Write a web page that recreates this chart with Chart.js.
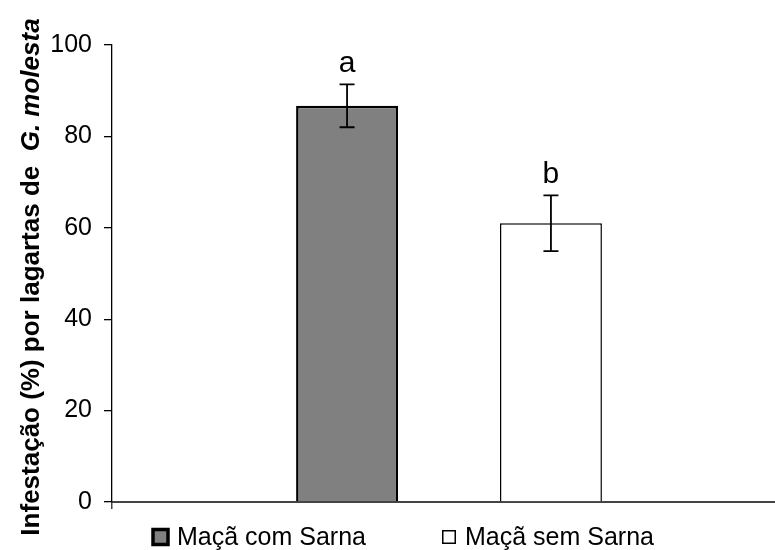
<!DOCTYPE html>
<html>
<head>
<meta charset="utf-8">
<script src="https://cdn.jsdelivr.net/npm/chart.js@4"></script>
<style>
  html, body { margin: 0; padding: 0; background: #fff; overflow: hidden; }
  #wrap { width: 790px; height: 550px; position: relative; }
</style>
</head>
<body>
<div id="wrap"><canvas id="grafico"></canvas></div>
<script>
const tratamentos = ["Maçã com Sarna", "Maçã sem Sarna"];
const infestacao = [86.7, 61.0];
const erroPadrao = [4.7, 6.1];
const letras = ["a", "b"];
const ticksY = [0, 20, 40, 60, 80, 100];
const coresBarra = ["#808080", "#ffffff"];
const bordasBarra = [2.5, 1.5];

const fonte = "'Liberation Sans', Arial, sans-serif";

// barras de erro + letras da comparação de médias
const errosPlugin = {
  id: "erros",
  afterDatasetsDraw(chart) {
    const ctx = chart.ctx;
    const y = chart.scales.y;
    ctx.save();
    chart.data.datasets.forEach((ds, i) => {
      const bar = chart.getDatasetMeta(i).data[0];
      const v = ds.data[0];
      const yTop = y.getPixelForValue(v + erroPadrao[i]);
      const yBot = y.getPixelForValue(v - erroPadrao[i]);
      ctx.strokeStyle = "#000";
      ctx.lineWidth = 1.8;
      ctx.beginPath();
      ctx.moveTo(bar.x, yTop);
      ctx.lineTo(bar.x, yBot);
      ctx.moveTo(bar.x - 7.5, yTop);
      ctx.lineTo(bar.x + 7.5, yTop);
      ctx.moveTo(bar.x - 7.5, yBot);
      ctx.lineTo(bar.x + 7.5, yBot);
      ctx.stroke();
      ctx.fillStyle = "#000";
      ctx.font = "30px " + fonte;
      ctx.textAlign = "center";
      ctx.textBaseline = "alphabetic";
      ctx.fillText(letras[i], bar.x, yTop - 12);
    });
    ctx.restore();
  },
};

// titulo do eixo Y com nome da especie em italico
const tituloPlugin = {
  id: "tituloY",
  afterDraw(chart) {
    const ctx = chart.ctx;
    const p1 = "Infestação (%) por lagartas de  ";
    const p2 = "G. molesta";
    ctx.save();
    ctx.translate(39, 277);
    ctx.rotate(-Math.PI / 2);
    ctx.fillStyle = "#000";
    ctx.textBaseline = "alphabetic";
    ctx.textAlign = "left";
    ctx.font = "bold 26px " + fonte;
    const w1 = ctx.measureText(p1).width;
    ctx.font = "italic bold 26px " + fonte;
    const w2 = ctx.measureText(p2).width;
    const x0 = -(w1 + w2) / 2;
    ctx.font = "bold 26px " + fonte;
    ctx.fillText(p1, x0, 0);
    ctx.font = "italic bold 26px " + fonte;
    ctx.fillText(p2, x0 + w1, 0);
    ctx.restore();
  },
};

// legenda embaixo, no estilo do Excel
const legendaPlugin = {
  id: "legenda",
  afterDraw(chart) {
    const ctx = chart.ctx;
    const itens = [
      { box: 160.5, txt: 177 },
      { box: 449, txt: 465 },
    ];
    ctx.save();
    chart.data.datasets.forEach((ds, i) => {
      const s = i == 0 ? 15 : 12.5;
      ctx.fillStyle = ds.backgroundColor;
      ctx.strokeStyle = "#000";
      ctx.lineWidth = i == 0 ? 3.5 : 1.5;
      ctx.fillRect(itens[i].box - s / 2, 537 - s / 2, s, s);
      ctx.strokeRect(itens[i].box - s / 2, 537 - s / 2, s, s);
      ctx.fillStyle = "#000";
      ctx.font = "25px " + fonte;
      ctx.textBaseline = "middle";
      ctx.textAlign = "left";
      ctx.fillText(ds.label, itens[i].txt, 538);
    });
    ctx.restore();
  },
};

const ctx = document.getElementById("grafico").getContext("2d");
const myChart = new Chart(ctx, {
  type: "bar",
  data: {
    labels: [""],
    datasets: tratamentos.map((t, i) => ({
      label: t,
      data: [infestacao[i]],
      backgroundColor: coresBarra[i],
      borderColor: "#000",
      borderWidth: bordasBarra[i],
      categoryPercentage: 0.605,
      barPercentage: 0.5,
    })),
  },
  options: {
    animation: false,
    responsive: true,
    maintainAspectRatio: false,
    layout: { padding: { top: 45, right: 4, bottom: 41, left: 0 } },
    plugins: {
      legend: { display: false },
      tooltip: { enabled: false },
      title: { display: false },
    },
    scales: {
      x: {
        offset: true,
        ticks: { display: false },
        grid: { offset: true, drawOnChartArea: false, tickLength: 7, color: "#444", lineWidth: 1.5 },
        border: { color: "#444", width: 2 },
      },
      y: {
        min: 0,
        max: 100,
        afterFit(scale) { scale.width = 112; },
        afterBuildTicks(scale) { scale.ticks = ticksY.map((v) => ({ value: v })); },
        ticks: { color: "#000", padding: 12, font: { family: fonte, size: 25 } },
        grid: { drawOnChartArea: false, tickLength: 8, color: "#000", lineWidth: 1.3 },
        border: { color: "#000", width: 1.3 },
      },
    },
  },
  plugins: [errosPlugin, tituloPlugin, legendaPlugin],
});
</script>
</body>
</html>
